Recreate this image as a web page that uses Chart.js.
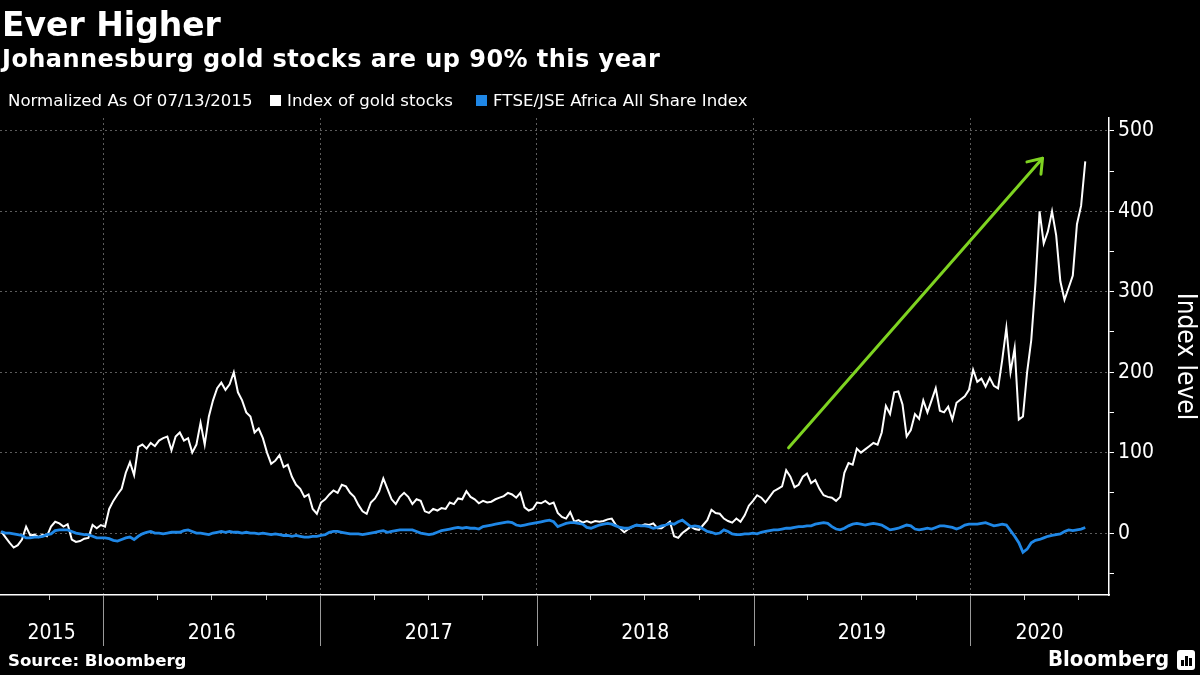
<!DOCTYPE html>
<html>
<head>
<meta charset="utf-8">
<script src="https://cdn.jsdelivr.net/npm/chart.js@4.4.1/dist/chart.umd.min.js"></script>
<style>
html,body{margin:0;padding:0;background:#000;width:1200px;height:675px;overflow:hidden;}
#wrap{position:relative;width:1200px;height:675px;background:#000;}
canvas{position:absolute;left:0;top:0;}
.t{position:absolute;color:#fff;white-space:nowrap;margin:0;}
#title{left:2px;top:5px;font:bold 33px 'DejaVu Sans',sans-serif;line-height:40px;}
#subtitle{left:2px;top:45px;font:bold 24px 'DejaVu Sans',sans-serif;line-height:29px;letter-spacing:0.45px;}
.leg{top:91px;font:16.6px 'DejaVu Sans',sans-serif;line-height:20px;}
.sq{position:absolute;top:95px;width:11px;height:11px;}
#source{left:8px;top:651px;font:bold 16.6px 'DejaVu Sans',sans-serif;line-height:20px;}
#brand{left:1048px;top:645px;font:bold 22px 'DejaVu Sans Condensed','DejaVu Sans',sans-serif;line-height:28px;}
#icon{position:absolute;left:1177px;top:650px;width:18px;height:20px;background:#fff;border-radius:3px;}
#icon span{position:absolute;bottom:4px;width:3px;background:#000;}
</style>
</head>
<body>
<div id="wrap">
<canvas id="c" width="1200" height="675"></canvas>
<div class="t" id="title">Ever Higher</div>
<div class="t" id="subtitle">Johannesburg gold stocks are up 90% this year</div>
<div class="t leg" style="left:8px;">Normalized As Of 07/13/2015</div>
<div class="sq" style="left:270px;background:#ffffff;"></div>
<div class="t leg" style="left:287px;">Index of gold stocks</div>
<div class="sq" style="left:476px;background:#1f87e6;"></div>
<div class="t leg" style="left:493px;">FTSE/JSE Africa All Share Index</div>
<div class="t" id="source">Source: Bloomberg</div>
<div class="t" id="brand">Bloomberg</div>
<div id="icon"><span style="left:4px;height:6px;"></span><span style="left:8px;height:10px;"></span><span style="left:12px;height:8px;"></span></div>
</div>
<script>
// ---- data (weekly observations starting 2015-07-13) ----
const startDate = '2015-07-13';
const goldIndex = [
2,-5,-12,-18,-15,-8,8,-3,-2,-5,-2,-4,8,14,12,8,11,-8,-11,-10,
-7,-6,10,6,10,8,30,40,48,55,75,88,72,107,110,105,112,108,115,118,
120,103,120,125,115,118,100,110,137,110,145,165,180,187,178,185,200,175,165,150,
145,125,130,118,100,86,90,97,82,85,70,60,55,45,48,30,24,38,42,48,
53,50,60,58,50,45,35,27,24,38,43,52,68,55,42,36,45,50,45,36,
42,40,27,25,30,28,31,30,38,36,43,42,52,45,42,37,40,38,39,42,
44,46,50,48,44,50,32,28,30,38,37,40,36,38,25,20,18,26,14,16,
13,15,13,15,14,15,17,18,10,6,1,5,8,10,9,11,10,12,6,6,
10,14,-4,-6,0,4,8,5,4,10,16,29,25,24,18,15,13,18,14,22,
34,40,47,44,38,45,52,55,58,78,70,57,60,70,74,62,66,55,47,45,
44,40,45,75,87,85,105,100,104,108,112,110,125,158,148,175,176,160,120,128,
148,142,165,150,165,180,152,150,157,141,162,166,170,178,203,188,192,182,193,183,
180,215,255,200,230,141,145,200,240,310,400,360,375,400,370,313,290,305,320,384,
407,462
];
const allShareIndex = [
2,0,0,-1,-2,-3,-6,-6,-5,-5,-4,-2,-1,3,4,4,4,2,0,-1,
-2,-2,-4,-6,-6,-6,-7,-9,-10,-8,-6,-5,-8,-4,-1,1,2,0,0,-1,
0,1,1,1,3,4,2,0,0,-1,-2,0,1,2,1,2,1,1,0,1,
0,0,-1,0,-1,-2,-1,-2,-3,-3,-4,-3,-4,-5,-5,-4,-4,-3,-2,1,
2,2,1,0,-1,-1,-1,-2,-1,0,1,2,3,1,2,3,4,4,4,4,
2,0,-1,-2,-1,1,3,4,5,6,7,6,7,6,6,5,8,9,10,11,
12,13,14,13,10,9,10,11,12,13,14,15,16,14,8,10,12,13,13,12,
11,7,6,8,10,11,12,11,9,7,6,6,8,10,9,9,8,6,7,9,
10,12,11,14,16,12,8,9,8,5,2,1,-1,0,4,2,-1,-2,-2,-1,
-1,0,-1,1,2,3,4,4,5,6,6,7,8,8,9,9,11,12,13,12,
8,5,4,6,9,11,12,11,10,11,12,11,10,7,4,5,6,8,10,9,
5,4,5,6,5,7,9,9,8,7,5,7,10,11,11,11,12,13,11,9,
10,11,10,3,-4,-12,-24,-20,-12,-9,-8,-6,-4,-3,-2,-1,2,4,3,4,
5,7
];
const yearLabels = ['2015','2016','2017','2018','2019','2020'];
const yearStartDates = ['2016-01-01','2017-01-01','2018-01-01','2019-01-01','2020-01-01'];
const quarterTickDates = ['2015-10-01',
 '2016-04-01','2016-07-01','2016-10-01','2017-04-01','2017-07-01','2017-10-01',
 '2018-04-01','2018-07-01','2018-10-01','2019-04-01','2019-07-01','2019-10-01',
 '2020-04-01','2020-07-01'];
const axisStartDate = '2015-07-11';
const axisEndDate = '2020-08-22';
const yTickValues = [-50,0,50,100,150,200,250,300,350,400,450,500];
const yMin = -77, yMax = 516;
const arrowFrom = {date:'2019-03-01', value:106};
const arrowTo = {date:'2020-05-02', value:466};

// ---- helpers ----
const DAY = 86400000;
const t0 = Date.parse(startDate + 'T00:00:00Z');
const dayOf = s => Math.round((Date.parse(s + 'T00:00:00Z') - t0) / DAY);
const xMin = dayOf(axisStartDate), xMax = dayOf(axisEndDate);
const boundaries = yearStartDates.map(dayOf);
const edges = [xMin, ...boundaries, xMax];
const labelCenters = yearLabels.map((l, i) => (edges[i] + edges[i + 1]) / 2);
const labelMap = {}; labelCenters.forEach((c, i) => labelMap[c] = yearLabels[i]);
const boundarySet = new Set(boundaries);

const goldPts = goldIndex.map((v, i) => ({x: i * 7, y: v}));
const sharePts = allShareIndex.map((v, i) => ({x: i * 7, y: v}));
const arrowPts = [{x: dayOf(arrowFrom.date), y: arrowFrom.value}, {x: dayOf(arrowTo.date), y: arrowTo.value}];

const FONT = "'DejaVu Sans Condensed','DejaVu Sans',sans-serif";
const GRID = '#5c5c5c';
const GREEN = '#7ed321';

const decor = {
  id: 'decor',
  afterDatasetsDraw(chart) {
    const {ctx} = chart;
    const meta = chart.getDatasetMeta(2);
    const p0 = meta.data[0], p1 = meta.data[1];
    const ang = Math.atan2(p1.y - p0.y, p1.x - p0.x);
    const L = 16, a = 0.62;
    ctx.save();
    ctx.strokeStyle = GREEN; ctx.lineWidth = 3; ctx.lineCap = 'round'; ctx.lineJoin = 'round';
    ctx.beginPath();
    ctx.moveTo(p1.x - L * Math.cos(ang - a), p1.y - L * Math.sin(ang - a));
    ctx.lineTo(p1.x, p1.y);
    ctx.lineTo(p1.x - L * Math.cos(ang + a), p1.y - L * Math.sin(ang + a));
    ctx.stroke();
    ctx.restore();
  },
  afterDraw(chart) {
    const {ctx, scales: {x}, chartArea} = chart;
    const b = chartArea.bottom;
    ctx.save();
    ctx.lineWidth = 1;
    ctx.strokeStyle = '#9a9a9a';
    boundaries.forEach(d => {
      const px = Math.round(x.getPixelForValue(d)) + 0.5;
      ctx.beginPath(); ctx.moveTo(px, b); ctx.lineTo(px, b + 51); ctx.stroke();
    });
    ctx.strokeStyle = '#cccccc';
    quarterTickDates.map(dayOf).forEach(d => {
      const px = Math.round(x.getPixelForValue(d)) + 0.5;
      ctx.beginPath(); ctx.moveTo(px, b); ctx.lineTo(px, b + 5); ctx.stroke();
    });
    ctx.restore();
  }
};

new Chart(document.getElementById('c'), {
  type: 'line',
  data: {
    datasets: [
      {label: 'FTSE/JSE Africa All Share Index', data: sharePts, borderColor: '#1f87e6', borderWidth: 2.8, pointRadius: 0, tension: 0, order: 1},
      {label: 'Index of gold stocks', data: goldPts, borderColor: '#ffffff', borderWidth: 2, pointRadius: 0, tension: 0, order: 2},
      {label: 'arrow', data: arrowPts, borderColor: GREEN, borderWidth: 3, pointRadius: 0, tension: 0, order: 0, borderCapStyle: 'round'}
    ]
  },
  options: {
    responsive: false,
    animation: false,
    devicePixelRatio: 1,
    layout: {padding: {top: 118, left: 0, right: 0, bottom: 0}},
    plugins: {legend: {display: false}, title: {display: false}, tooltip: {enabled: false}},
    scales: {
      x: {
        type: 'linear', min: xMin, max: xMax,
        afterBuildTicks: s => { s.ticks = [...boundaries, ...labelCenters].sort((a, b) => a - b).map(v => ({value: v})); },
        afterFit: s => { s.height = 80; },
        ticks: {autoSkip: false, maxRotation: 0, color: '#ffffff', padding: 26,
          font: {family: FONT, size: 21}, callback: v => labelMap[v] || ''},
        grid: {drawTicks: false, color: c => (c.tick && boundarySet.has(c.tick.value)) ? GRID : 'rgba(0,0,0,0)', lineWidth: 1},
        border: {display: true, color: '#ffffff', width: 1.5, dash: [2, 3]}
      },
      y: {
        type: 'linear', position: 'right', min: yMin, max: yMax,
        afterBuildTicks: s => { s.ticks = yTickValues.map(v => ({value: v})); },
        afterFit: s => { s.width = 91; },
        ticks: {color: '#ffffff', padding: 4, font: {family: FONT, size: 21},
          callback: v => (v % 100 === 0 && v >= 0) ? String(v) : ''},
        grid: {drawTicks: true, tickLength: 5, tickColor: '#ffffff', tickWidth: 1,
          color: c => (c.tick && c.tick.value % 100 === 0 && c.tick.value >= 0) ? GRID : 'rgba(0,0,0,0)', lineWidth: 1},
        border: {display: true, color: '#ffffff', width: 1.5, dash: [2, 3]},
        title: {display: true, text: 'Index level', color: '#ffffff', font: {family: FONT, size: 26}, padding: {top: 0, bottom: 0}}
      }
    }
  },
  plugins: [decor]
});
</script>
</body>
</html>
